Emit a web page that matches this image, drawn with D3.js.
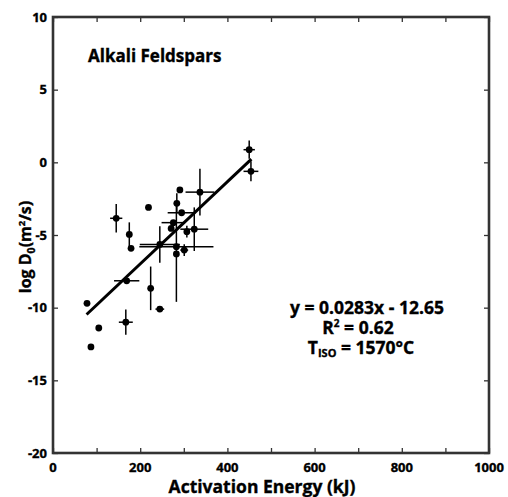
<!DOCTYPE html>
<html>
<head>
<meta charset="utf-8">
<script src="https://cdn.jsdelivr.net/npm/d3@7"></script>
<style>
  body { margin: 0; background: #fff; }
  svg { font-family: "Open Sans", sans-serif; font-weight: 700; }
  svg text { stroke: #000; stroke-width: 0.35px; }
</style>
</head>
<body>
<svg id="chart"></svg>
<script>
// activation energy (kJ), log D0 and their error half-widths
const energy    = [78, 87, 105, 145, 167, 169, 175, 179, 219, 224, 245, 245, 271, 276, 283, 283, 284, 291, 295, 301, 307, 324, 337, 450, 454]
const logD      = [-9.7, -12.7, -11.4, -3.85, -11.0, -8.15, -4.96, -5.92, -3.1, -8.67, -10.1, -5.65, -4.55, -4.15, -5.8, -6.3, -2.82, -1.9, -3.47, -6.04, -4.77, -4.6, -2.05, 0.87, -0.62]
const energyErr = [0, 0, 0, 14, 16, 29, 0, 0, 0, 0, 10, 46, 0, 27, 85, 0, 0, 0, 32, 9, 0, 32, 33, 13, 17]
const logDErr   = [0, 0, 0, 0.98, 0.87, 0, 0.83, 0, 0, 1.5, 0, 1.26, 0, 0, 0, 3.3, 0.7, 0, 0, 0.4, 0.4, 1.5, 1.6, 0.63, 0.69]

// regression fit shown in the figure
const slope = 0.0283
const intercept = -12.65
const fitRange = [77, 455]

const xTicks = d3.range(0, 1001, 100)
const xLabels = [0, 200, 400, 600, 800, 1000]
const yTicks = d3.range(-20, 11, 5)

const width = 508, height = 497
const margin = { top: 17, right: 19, bottom: 44, left: 53 }
const innerW = width - margin.left - margin.right
const innerH = height - margin.top - margin.bottom

const x = d3.scaleLinear().domain([0, 1000]).range([0, innerW])
const y = d3.scaleLinear().domain([-20, 10]).range([innerH, 0])

const svg = d3.select('#chart')
    .attr('width', width)
    .attr('height', height)

const g = svg.append('g')
    .attr('transform', `translate(${margin.left},${margin.top})`)

const frameColor = '#333'

// inward ticks on all four sides
const axes = [
    { axis: d3.axisBottom(x).tickValues(xTicks).tickSize(-5).tickFormat(''), at: `translate(0,${innerH})` },
    { axis: d3.axisTop(x).tickValues(xTicks).tickSize(-5).tickFormat(''), at: 'translate(0,0)' },
    { axis: d3.axisLeft(y).tickValues(yTicks).tickSize(-5).tickFormat(''), at: 'translate(0,0)' },
    { axis: d3.axisRight(y).tickValues(yTicks).tickSize(-5).tickFormat(''), at: `translate(${innerW},0)` }
]
axes.forEach(a => {
    const ag = g.append('g').attr('transform', a.at).call(a.axis)
    ag.select('.domain').remove()
    ag.selectAll('.tick line').attr('stroke', frameColor).attr('stroke-width', 1.3)
})

// frame
g.append('rect')
    .attr('width', innerW)
    .attr('height', innerH)
    .attr('fill', 'none')
    .attr('stroke', frameColor)
    .attr('stroke-width', 2.6)

// tick labels
g.append('g').selectAll('text')
    .data(xLabels)
    .join('text')
    .attr('x', d => x(d))
    .attr('y', innerH + 19)
    .attr('text-anchor', 'middle')
    .attr('font-size', 13)
    .text(d => d)

g.append('g').selectAll('text')
    .data(yTicks)
    .join('text')
    .attr('x', -6)
    .attr('y', d => y(d))
    .attr('dy', '0.35em')
    .attr('text-anchor', 'end')
    .attr('font-size', 13)
    .text(d => d)

// axis titles
svg.append('text')
    .attr('x', 262)
    .attr('y', 493)
    .attr('text-anchor', 'middle')
    .attr('font-size', 17.5)
    .text('Activation Energy (kJ)')

const yTitle = svg.append('text')
    .attr('transform', 'translate(31,247) rotate(-90)')
    .attr('text-anchor', 'middle')
    .attr('font-size', 16)
yTitle.append('tspan').text('log D')
yTitle.append('tspan').attr('font-size', 10.5).attr('dy', 4).text('0')
yTitle.append('tspan').attr('dy', -4).text('(m')
yTitle.append('tspan').attr('font-size', 9.5).attr('dy', -6).text('2')
yTitle.append('tspan').attr('dy', 6).text('/s)')

// panel title
g.append('text')
    .attr('x', 35)
    .attr('y', 45)
    .attr('font-size', 17)
    .text('Alkali Feldspars')

// data
const points = energy.map((e, i) => ({ e, d: logD[i], ee: energyErr[i], de: logDErr[i] }))

const bars = g.append('g')
    .attr('stroke', '#000')
    .attr('stroke-width', 1.5)

bars.selectAll('.hbar')
    .data(points.filter(p => p.ee > 0))
    .join('line')
    .attr('class', 'hbar')
    .attr('x1', p => x(p.e - p.ee))
    .attr('x2', p => x(p.e + p.ee))
    .attr('y1', p => y(p.d))
    .attr('y2', p => y(p.d))

bars.selectAll('.vbar')
    .data(points.filter(p => p.de > 0))
    .join('line')
    .attr('class', 'vbar')
    .attr('x1', p => x(p.e))
    .attr('x2', p => x(p.e))
    .attr('y1', p => y(p.d - p.de))
    .attr('y2', p => y(p.d + p.de))

// regression line
g.append('line')
    .attr('x1', x(fitRange[0]))
    .attr('y1', y(slope * fitRange[0] + intercept))
    .attr('x2', x(fitRange[1]))
    .attr('y2', y(slope * fitRange[1] + intercept))
    .attr('stroke', '#000')
    .attr('stroke-width', 3)

g.append('g').selectAll('circle')
    .data(points)
    .join('circle')
    .attr('cx', p => x(p.e))
    .attr('cy', p => y(p.d))
    .attr('r', 3.4)
    .attr('fill', '#000')

// fit annotation
const ann = svg.append('g').attr('font-size', 17.5).attr('text-anchor', 'middle')
ann.append('text')
    .attr('x', 367)
    .attr('y', 314)
    .text(`y = ${slope}x - ${Math.abs(intercept).toFixed(2)}`)

const r2 = ann.append('text').attr('x', 358).attr('y', 334)
r2.append('tspan').text('R')
r2.append('tspan').attr('font-size', 10).attr('dy', -7).text('2')
r2.append('tspan').attr('dy', 7).text(' = 0.62')

const tiso = ann.append('text').attr('x', 361).attr('y', 354)
tiso.append('tspan').text('T')
tiso.append('tspan').attr('font-size', 11).attr('dy', 3).text('ISO')
tiso.append('tspan').attr('dy', -3).text(' = 1570°C')
</script>
</body>
</html>
